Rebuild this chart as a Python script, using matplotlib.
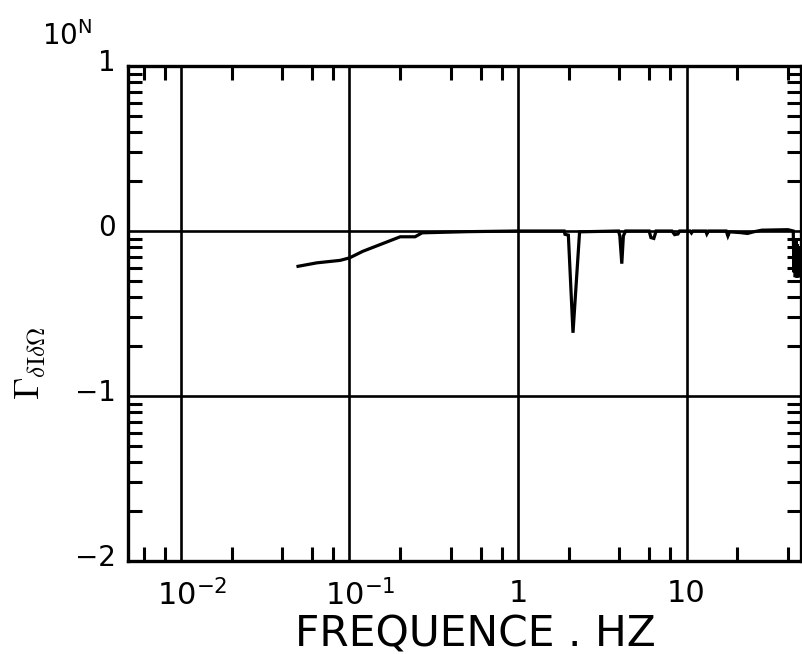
import numpy as np
import matplotlib
matplotlib.use("Agg")
import matplotlib.pyplot as plt
from matplotlib.ticker import LogLocator, FixedLocator, NullFormatter
from matplotlib.transforms import ScaledTranslation

# frequency (Hz) and coherence exponent N (value = 10**N)
freq = [0.0495, 0.064, 0.088, 0.10, 0.12, 0.20, 0.245, 0.27, 0.50, 1.0,
        1.88, 1.90, 1.99, 2.12, 2.32,
        3.95, 4.02, 4.13, 4.22, 4.35,
        6.0, 6.15, 6.4, 6.6,
        8.2, 8.5, 8.9, 9.1,
        10.5, 10.7, 10.9, 13.0, 13.2, 13.5,
        17.2, 17.6, 18.0, 21.0, 23.0, 25.0, 28.0, 40.0,
        43.0, 43.4, 43.8, 44.2, 44.6, 45.0, 45.4, 45.8, 46.2, 46.6, 47.0, 47.4]
gamma_exp = [-0.214, -0.193, -0.178, -0.163, -0.123, -0.035, -0.035, -0.011, -0.004, 0.0,
             0.0, -0.02, -0.025, -0.617, -0.005,
             0.0, -0.03, -0.198, -0.03, 0.0,
             0.0, -0.04, -0.045, 0.0,
             0.0, -0.022, -0.018, 0.0,
             0.0, -0.012, 0.0, 0.0, -0.018, 0.0,
             0.0, -0.03, -0.005, -0.01, -0.015, -0.005, 0.005, 0.008,
             0.0, -0.25, -0.05, -0.28, -0.06, -0.28, -0.08, -0.28, -0.1, -0.28, -0.15, -0.25]

x_ticks = [0.01, 0.1, 1, 10]
x_tick_labels = [r'$10^{-2}$', r'$10^{-1}$', '1', '10']
y_ticks = [0.01, 0.1, 1, 10]
y_tick_labels = ['\u22122', '\u22121', '0', '1']

plt.rcParams['font.family'] = ['DejaVu Sans']
plt.rcParams['mathtext.fontset'] = 'dejavusans'
plt.rcParams['mathtext.default'] = 'regular'

W, H = 802, 654
fig = plt.figure(figsize=(W / 100, H / 100), dpi=100)
left, right, top, bottom = 128, 801, 66, 561
ax = fig.add_axes([left / W, 1 - bottom / H, (right - left) / W, (bottom - top) / H])

ax.set_xscale('log')
ax.set_yscale('log')
ax.set_xlim(0.004848, 47.8)
ax.set_ylim(0.01, 10)

ax.plot(freq, 10 ** np.array(gamma_exp), color='black', lw=2.3, solid_joinstyle='miter')

# grid: decades only
for xv in x_ticks:
    ax.axvline(xv, color='black', lw=1.9, zorder=1)
for yv in [0.1, 1]:
    ax.axhline(yv, color='black', lw=1.9, zorder=1)

ax.xaxis.set_major_locator(FixedLocator(x_ticks))
ax.set_xticklabels(x_tick_labels)
ax.xaxis.set_minor_locator(LogLocator(base=10, subs=(2, 4, 6, 8)))
ax.xaxis.set_minor_formatter(NullFormatter())
ax.yaxis.set_major_locator(FixedLocator(y_ticks))
ax.set_yticklabels(y_tick_labels)
ax.yaxis.set_minor_locator(LogLocator(base=10, subs=range(2, 10)))
ax.yaxis.set_minor_formatter(NullFormatter())

ax.tick_params(which='major', length=0)
ax.tick_params(axis='y', which='major', labelsize=20, pad=9)
ax.tick_params(axis='x', which='major', labelsize=22, pad=13)
ax.tick_params(which='minor', direction='in', length=10, width=2.2,
               top=True, right=True, bottom=True, left=True)
for sp in ax.spines.values():
    sp.set_linewidth(2.4)

# y tick labels sit slightly above their level
offset = ScaledTranslation(0, 0.06, fig.dpi_scale_trans)
for lab in ax.get_yticklabels():
    lab.set_transform(lab.get_transform() + offset)
# the "10" of the power labels is centred on the grid line
shift = ScaledTranslation(0.11, 0, fig.dpi_scale_trans)
for lab in ax.get_xticklabels()[:2]:
    lab.set_transform(lab.get_transform() + shift)

ax.set_xlabel('FREQUENCE . HZ', fontsize=30.5)
ax.xaxis.set_label_coords((475 - left) / (right - left), (bottom - 613) / (bottom - top))

fig.text(42 / W, 1 - 45 / H, r'$10^{N}$', fontsize=20, ha='left', va='baseline')
fig.text(30 / W, 1 - 363 / H, r'$\mathrm{\Gamma}_{\mathrm{\delta I \delta \Omega}}$', fontsize=26,
         rotation=90, ha='center', va='center', math_fontfamily='cm')

fig.savefig('out.png', dpi=100, facecolor='white')
